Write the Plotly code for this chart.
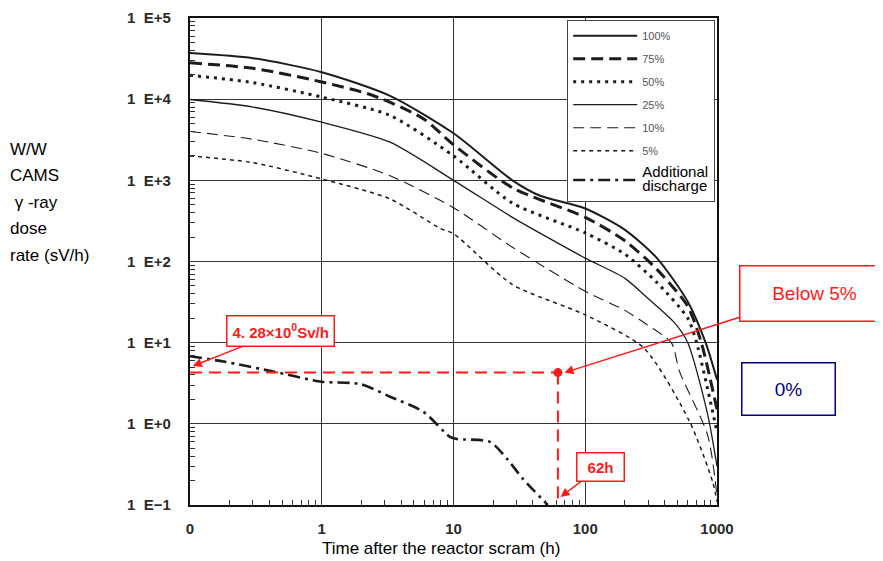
import math
import plotly.graph_objects as go

# ---------------- data ----------------
hours_100 = [0.1, 0.3, 1, 3.3, 10, 28, 45, 100, 200, 350, 600, 820, 1000]
dose_100 = [37000, 32000, 21500, 11000, 3800, 1000, 650, 450, 245, 110, 32, 10, 3.5]

hours_75 = [0.1, 0.3, 1, 2.45, 5.9, 10, 28, 100, 200, 350, 600, 760, 1000]
dose_75 = [28000, 24000, 16300, 11100, 5750, 2750, 810, 350, 180, 80, 28, 10, 1.5]

hours_50 = [0.1, 0.3, 1, 3.3, 10, 28, 100, 200, 350, 600, 700, 1000]
dose_50 = [19700, 16000, 10600, 6300, 2000, 525, 225, 123, 55, 20, 10, 0.8]

hours_25 = [0.1, 0.3, 1, 3.3, 10, 28, 45, 100, 200, 300, 470, 600, 850, 1000]
dose_25 = [9900, 8000, 5200, 2950, 1000, 350, 225, 110, 62, 35, 18, 10, 1.3, 0.3]

hours_10 = [0.1, 0.3, 1, 3.3, 10, 28, 100, 200, 295, 450, 520, 850, 1000]
dose_10 = [4000, 3200, 2150, 1140, 460, 150, 43, 25, 16.6, 10, 4.4, 0.72, 0.13]

hours_5 = [0.1, 0.3, 1, 3.3, 7.9, 10, 28, 100, 280, 620, 930, 1000]
dose_5 = [2000, 1650, 1040, 590, 257, 220, 52, 22, 8.5, 1.06, 0.19, 0.11]

hours_add = [0.1, 0.18, 0.43, 1.0, 1.95, 3.3, 5.9, 9.4, 10.6, 18.9, 25.5, 33.6, 52]
dose_add = [6.8, 5.85, 4.4, 3.3, 3.1, 2.16, 1.41, 0.69, 0.65, 0.6, 0.37, 0.21, 0.1]

series_names = ["100%", "75%", "50%", "25%", "10%", "5%", "Additional discharge"]

mark_hours = 62
mark_dose = 4.28
x_min, x_max = 0.1, 1000
y_min, y_max = 0.1, 1e5

x_tickvals = [0.1, 1, 10, 100, 1000]
x_ticktext = ["0", "1", "10", "100", "1000"]
y_tickvals = [0.1, 1, 10, 100, 1000, 10000, 100000]
y_ticktext = ["1  E\u22121", "1  E+0", "1  E+1", "1  E+2", "1  E+3", "1  E+4", "1  E+5"]

ytitle_lines = ["W/W", "CAMS", " \u03b3 -ray", "dose", "rate (sV/h)"]
xtitle = "Time after the reactor scram (h)"

# ---------------- figure ----------------
ink = "#1c1c1c"
styles = [
    dict(width=2.0, dash="solid"),
    dict(width=3.0, dash="12px,6px"),
    dict(width=3.0, dash="3px,5px"),
    dict(width=1.3, dash="solid"),
    dict(width=1.1, dash="11px,6px"),
    dict(width=1.5, dash="4px,4px"),
    dict(width=2.6, dash="12px,5px,3px,5px"),
]
all_x = [hours_100, hours_75, hours_50, hours_25, hours_10, hours_5, hours_add]
all_y = [dose_100, dose_75, dose_50, dose_25, dose_10, dose_5, dose_add]

fig = go.Figure()
for name, xs, ys, st in zip(series_names, all_x, all_y, styles):
    label = name
    if name == "Additional discharge":
        label = '<span style="font-size:15px;color:#000">Additional<br>discharge</span>'
    fig.add_trace(go.Scatter(
        x=xs, y=ys, mode="lines", name=label, legendgroup=name,
        line=dict(color=ink, width=st["width"], dash=st["dash"], shape="spline", smoothing=0.7),
        hoverinfo="skip",
    ))

red = "#ff1a1a"
fig.add_trace(go.Scatter(x=[x_min, mark_hours], y=[mark_dose, mark_dose], mode="lines",
                         line=dict(color=red, width=2, dash="12px,7px"), showlegend=False,
                         hoverinfo="skip"))
fig.add_trace(go.Scatter(x=[mark_hours, mark_hours], y=[mark_dose, y_min], mode="lines",
                         line=dict(color=red, width=2, dash="12px,7px"), showlegend=False,
                         hoverinfo="skip"))
fig.add_trace(go.Scatter(x=[mark_hours], y=[mark_dose], mode="markers",
                         marker=dict(color=red, size=9), showlegend=False, hoverinfo="skip"))

# page has an 8px body margin; figure is sized so it fills the 883x561 window
OFF = 8
W, H = 875, 553
L, T = 182, 10
pw, ph = 527, 487
R, B = W - L - pw, H - T - ph


def px_to_paper_x(px):
    return (px - OFF - L) / pw


def px_to_paper_y(py):
    return 1 - (py - OFF - T) / ph


def minor_vals(lo, hi):
    vals = []
    for e in range(int(math.log10(lo)), int(math.log10(hi))):
        for k in range(2, 10):
            vals.append(k * 10 ** e)
    return vals


tickfont = dict(family="Liberation Sans, Arial", size=15, color="#2a2a2a", weight="bold")

fig.update_xaxes(
    type="log", range=[math.log10(x_min), math.log10(x_max)],
    tickvals=x_tickvals, ticktext=x_ticktext, tickfont=tickfont,
    ticks="", ticklabelstandoff=9,
    showgrid=True, gridcolor="#333", gridwidth=1.4,
    showline=True, linecolor="#111", linewidth=2.2, mirror=True,
    minor=dict(ticks="inside", ticklen=5, tickcolor="#333", tickwidth=1, showgrid=False,
               tickvals=minor_vals(x_min, x_max)),
    zeroline=False,
)
fig.update_yaxes(
    type="log", range=[math.log10(y_min), math.log10(y_max)],
    tickvals=y_tickvals, ticktext=y_ticktext, tickfont=tickfont,
    ticks="", ticklabelstandoff=14,
    showgrid=True, gridcolor="#333", gridwidth=1.4,
    showline=True, linecolor="#111", linewidth=2.2, mirror=True,
    minor=dict(ticks="inside", ticklen=5, tickcolor="#333", tickwidth=1, showgrid=False,
               tickvals=minor_vals(y_min, y_max)),
    zeroline=False,
)

annotations = []
font_main = "Arial, Liberation Sans, sans-serif"
for i, t in enumerate(ytitle_lines):
    annotations.append(dict(
        text=t, xref="paper", yref="paper", x=px_to_paper_x(9), y=px_to_paper_y(149 + 26.5 * i),
        xanchor="left", yanchor="middle", showarrow=False, borderpad=0,
        font=dict(family=font_main, size=17, color="#000")))
annotations.append(dict(
    text=xtitle, xref="paper", yref="paper", x=px_to_paper_x(441), y=px_to_paper_y(548),
    xanchor="center", yanchor="middle", showarrow=False,
    font=dict(family=font_main, size=17, color="#000")))

callout_font = dict(family="Liberation Sans, Arial", size=15, color=red, weight="bold")
annotations.append(dict(
    text="4. 28\u00d710<sup>0</sup>Sv/h", xref="x", yref="y",
    x=math.log10(0.105), y=math.log10(mark_dose) + 0.08,
    ax=88, ay=-35, showarrow=True, arrowhead=2, arrowsize=1.2, arrowwidth=1.5, arrowcolor=red,
    font=callout_font, bordercolor=red, borderwidth=1.5, borderpad=5, bgcolor="white"))
annotations.append(dict(
    text="62h", xref="x", yref="y",
    x=math.log10(mark_hours) + 0.02, y=math.log10(y_min) + 0.1,
    ax=40, ay=-30, showarrow=True, arrowhead=2, arrowsize=1.2, arrowwidth=1.5, arrowcolor=red,
    width=36, borderpad=5,
    font=callout_font, bordercolor=red, borderwidth=1.5, bgcolor="white"))
annotations.append(dict(
    text="Below 5%", xref="x", yref="y",
    x=math.log10(mark_hours) + 0.05, y=math.log10(mark_dose),
    ax=250, ay=-79, showarrow=True, arrowhead=2, arrowsize=1.2, arrowwidth=1.5, arrowcolor=red,
    width=144, height=50, borderpad=2,
    font=dict(family=font_main, size=19, color=red),
    bordercolor=red, borderwidth=1.5, bgcolor="white"))
annotations.append(dict(
    text="0%", xref="paper", yref="paper",
    x=px_to_paper_x(788), y=px_to_paper_y(389), xanchor="center", yanchor="middle",
    showarrow=False, width=88, height=47, borderpad=2,
    font=dict(family=font_main, size=19, color="#000080"),
    bordercolor="#000080", borderwidth=1.5, bgcolor="white"))

fig.update_layout(
    width=W, height=H,
    margin=dict(l=L, r=R, t=T, b=B, autoexpand=False),
    paper_bgcolor="white", plot_bgcolor="white",
    showlegend=True,
    legend=dict(
        x=px_to_paper_x(567), y=px_to_paper_y(20), xanchor="left", yanchor="top",
        bgcolor="white", bordercolor="#444", borderwidth=1.2,
        font=dict(family="Liberation Sans, Arial", size=11, color="#555"),
        tracegroupgap=4, itemwidth=64,
    ),
    annotations=annotations,
)

fig.write_html("out.html")
